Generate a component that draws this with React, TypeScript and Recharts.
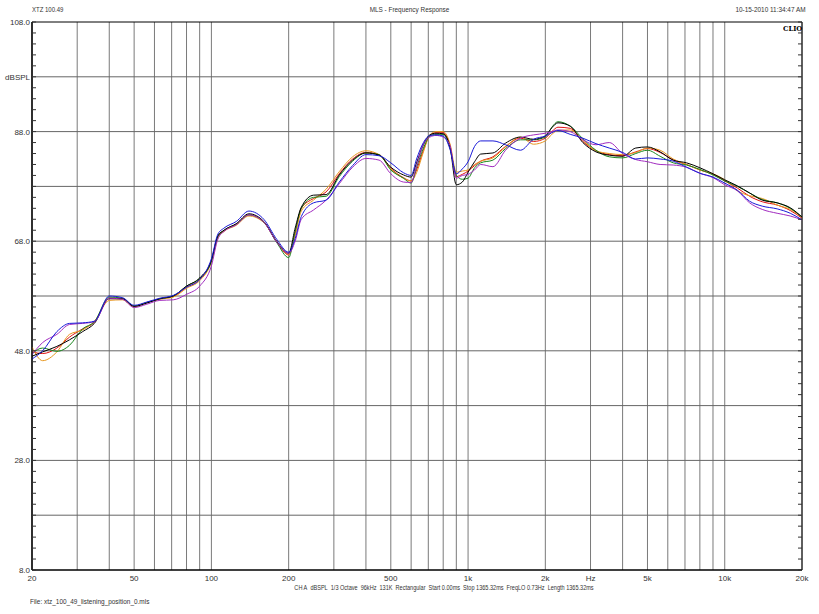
import React from "react";
import {
  CartesianGrid,
  Line,
  LineChart,
  ReferenceArea,
  ReferenceLine,
  XAxis,
  YAxis,
} from "recharts";

// frequency points (Hz), shared by all six traces
const FREQS = [
  20, 22, 25, 28, 31.5, 35, 40, 45, 50, 56,
  63, 71, 80, 90, 100, 106, 112, 125, 140, 160,
  180, 200, 212, 224, 250, 280, 315, 355, 400, 450,
  500, 560, 600, 630, 670, 710, 750, 800, 850, 900,
  950, 1000, 1060, 1120, 1250, 1400, 1600, 1800, 2000, 2120,
  2240, 2500, 2800, 3150, 3550, 4000, 4500, 5000, 5600, 6300,
  7100, 8000, 9000, 10000, 11200, 12500, 14000, 16000, 18000, 20000,
];

// dBSPL per trace
const BLACK = [
  47.0, 47.8, 48.8, 50.0, 51.5, 53.0, 57.5, 57.5, 56.1, 56.7,
  57.5, 58.0, 59.8, 61.3, 64.5, 69.0, 70.0, 71.2, 73.0, 71.6,
  67.9, 65.8, 70.4, 74.2, 76.4, 76.5, 80.1, 82.8, 84.1, 83.7,
  81.5, 80.1, 79.7, 82.3, 85.6, 87.4, 87.7, 87.6, 85.2, 78.3,
  78.8, 80.6, 82.5, 83.9, 84.1, 85.9, 87.0, 86.6, 87.2, 88.7,
  89.6, 89.0, 86.0, 84.3, 83.7, 83.5, 85.0, 85.2, 84.3, 82.8,
  82.3, 81.4, 80.3, 79.2, 78.1, 76.8, 75.5, 75.0, 74.1, 72.4,
];
const RED = [
  47.8, 47.5, 48.5, 50.5, 52.0, 53.2, 57.6, 57.5, 56.1, 56.8,
  57.5, 57.9, 59.6, 61.0, 64.4, 68.8, 69.9, 71.1, 72.8, 71.5,
  67.8, 65.5, 69.5, 74.0, 75.8, 77.0, 80.3, 83.0, 84.2, 83.8,
  81.3, 79.6, 79.0, 81.0, 84.6, 87.3, 87.8, 87.8, 85.5, 79.8,
  80.2, 80.8, 81.8, 82.6, 83.4, 85.3, 86.8, 86.2, 86.8, 88.0,
  88.8, 88.6, 86.2, 84.5, 83.8, 83.6, 84.3, 84.9, 84.2, 82.8,
  82.0, 81.0, 80.2, 79.0, 77.7, 76.2, 75.2, 74.6, 73.6, 72.2,
];
const GREEN = [
  47.5, 48.5, 47.9, 49.0, 52.0, 53.3, 57.8, 57.6, 56.2, 56.8,
  57.5, 58.0, 59.8, 61.2, 64.3, 68.8, 70.0, 71.1, 72.8, 71.5,
  67.7, 65.0, 69.8, 74.0, 76.0, 76.2, 79.8, 82.6, 84.1, 83.8,
  81.0, 79.5, 78.6, 81.5, 85.0, 87.2, 87.5, 87.5, 85.0, 80.0,
  79.3, 79.5, 81.4, 82.3, 82.8, 84.9, 86.5, 86.5, 87.0, 88.8,
  89.8, 89.0, 86.7, 84.6, 83.4, 83.2, 84.0, 84.6, 83.5, 82.3,
  81.9, 81.1, 80.1, 79.0, 78.0, 76.8, 75.6, 75.0, 74.0, 72.4,
];
const ORANGE = [
  48.7, 46.2, 47.8, 51.0, 51.8, 53.4, 57.2, 57.3, 56.0, 56.8,
  57.4, 57.8, 59.4, 60.8, 64.2, 68.6, 69.8, 70.9, 72.6, 71.4,
  67.9, 65.6, 69.0, 73.5, 75.5, 77.5, 80.7, 83.4, 84.5, 83.8,
  81.2, 79.5, 79.0, 80.5, 84.3, 87.4, 88.0, 88.0, 85.8, 80.6,
  80.8, 81.0, 82.0, 82.6, 83.2, 85.2, 87.0, 85.7, 86.3, 87.5,
  88.2, 88.3, 86.4, 84.5, 84.0, 83.8, 84.2, 85.0, 84.6, 83.0,
  82.0, 81.0, 80.3, 79.2, 77.2, 76.3, 75.8, 74.6, 73.8, 72.4,
];
const BLUE = [
  46.5, 48.0, 51.5, 53.0, 53.1, 53.4, 58.0, 57.7, 56.3, 56.9,
  57.6, 58.1, 59.6, 61.0, 64.8, 69.3, 70.4, 71.6, 73.5, 72.0,
  68.3, 66.0, 68.5, 72.5, 75.0, 75.5, 78.8, 81.8, 83.8, 83.6,
  82.3, 80.5, 80.0, 83.0, 86.0, 87.3, 87.4, 87.2, 84.8, 80.3,
  81.2, 82.5, 85.3, 86.3, 86.3, 85.6, 84.6, 86.6, 87.2, 87.8,
  88.2, 87.5, 86.8, 85.8, 85.0, 84.2, 83.0, 83.2, 83.0, 82.6,
  81.5, 80.4, 79.7, 78.6, 77.3, 75.3, 74.4, 73.9, 73.1, 71.9,
];
const PURPLE = [
  47.3, 49.5, 51.0, 52.8, 53.0, 53.3, 57.6, 57.4, 55.9, 56.5,
  57.2, 57.3, 58.3, 59.8, 63.5, 68.4, 69.8, 71.0, 72.8, 71.5,
  67.8, 65.8, 68.0, 72.0, 73.7, 75.5, 78.5, 81.5, 83.1, 82.8,
  80.3, 78.8, 78.7, 81.8, 85.7, 87.0, 87.3, 87.0, 85.5, 79.5,
  80.0, 80.2, 81.0, 82.0, 81.6, 84.6, 86.8, 87.4, 87.7, 88.0,
  88.3, 88.0, 86.5, 85.6, 86.0, 84.0, 82.9, 82.5, 82.0, 81.9,
  81.5, 80.4, 79.6, 78.3, 77.2, 75.0, 73.8, 73.1, 72.6, 71.9,
];

const X_TICKS = [
  20, 30, 40, 50, 60, 70, 80, 90, 100,
  200, 300, 400, 500, 600, 700, 800, 900, 1000,
  2000, 3000, 4000, 5000, 6000, 7000, 8000, 9000, 10000, 20000,
];
const X_LABELS: Record<number, string> = {
  20: "20", 50: "50", 100: "100", 200: "200", 500: "500", 1000: "1k",
  2000: "2k", 3000: "Hz", 5000: "5k", 10000: "10k", 20000: "20k",
};
const Y_GRID = [18, 28, 38, 48, 58, 68, 78, 88, 98];
const Y_LABELS: Record<number, string> = {
  108: "108.0", 98: "dBSPL", 88: "88.0", 68: "68.0", 48: "48.0", 28: "28.0", 8: "8.0",
};
const Y_MINOR = Array.from({ length: 51 }, (_, i) => 8 + i * 2);

const SERIES = [
  { key: "red", color: "#e01010", values: RED },
  { key: "orange", color: "#e8961e", values: ORANGE },
  { key: "green", color: "#18861c", values: GREEN },
  { key: "black", color: "#000000", values: BLACK },
  { key: "purple", color: "#a22cc0", values: PURPLE },
  { key: "blue", color: "#1a1ad8", values: BLUE },
];

const data = FREQS.map((f, i) => {
  const row: Record<string, number> = { f };
  SERIES.forEach((s) => (row[s.key] = s.values[i]));
  return row;
});

const CHART_W = 819;
const CHART_H = 614;
const MARGIN = { top: 22, right: 17, bottom: 0, left: 0 };
const Y_W = 32;
const X_H = 44;
const PLOT_L = MARGIN.left + Y_W;
const PLOT_R = CHART_W - MARGIN.right;
const FONT = "'Liberation Sans Narrow', 'Arial Narrow', 'Liberation Sans', Arial, sans-serif";

function YTick(props: any) {
  const { x, y, payload } = props;
  const label = Y_LABELS[payload.value];
  return (
    <g>
      <line x1={PLOT_L} x2={PLOT_L + 4} y1={y} y2={y} stroke="#333" strokeWidth={1} />
      <line x1={PLOT_R - 4} x2={PLOT_R} y1={y} y2={y} stroke="#333" strokeWidth={1} />
      {label && (
        <text x={x} y={y} dy={3} textAnchor="end" fontSize={8} fill="#333" fontFamily={FONT}>
          {label}
        </text>
      )}
    </g>
  );
}

const small: React.CSSProperties = {
  position: "absolute",
  fontFamily: FONT,
  fontSize: 8,
  color: "#333",
  whiteSpace: "nowrap",
  lineHeight: "10px",
};

export default function App() {
  return (
    <div style={{ position: "absolute", left: 0, top: 0, width: CHART_W, height: CHART_H, background: "#fff" }}>
      <LineChart width={CHART_W} height={CHART_H} data={data} margin={MARGIN}>
        <CartesianGrid stroke="#7a7a7a" horizontal={false} />
        {Y_GRID.map((v) => (
          <ReferenceLine key={v} y={v} stroke="#666" strokeWidth={1} />
        ))}
        <XAxis
          dataKey="f"
          type="number"
          scale="log"
          domain={[20, 20000]}
          allowDataOverflow
          ticks={X_TICKS}
          interval={0}
          height={X_H}
          tickLine={false}
          tickSize={0}
          tickMargin={5}
          axisLine={{ stroke: "#000" }}
          tickFormatter={(v: number) => X_LABELS[v] ?? ""}
          tick={{ fontSize: 8, fill: "#333", fontFamily: FONT }}
        />
        <YAxis
          type="number"
          domain={[8, 108]}
          allowDataOverflow
          ticks={Y_MINOR}
          interval={0}
          width={Y_W}
          tickLine={false}
          tickSize={0}
          tickMargin={2}
          axisLine={{ stroke: "#000" }}
          tick={(p: any) => <YTick {...p} />}
        />
        <ReferenceArea x1={20} x2={20000} y1={8} y2={108} fill="none" stroke="#000" ifOverflow="visible" />
        {SERIES.map((s) => (
          <Line
            key={s.key}
            dataKey={s.key}
            type="monotone"
            stroke={s.color}
            strokeWidth={1}
            dot={false}
            isAnimationActive={false}
          />
        ))}
      </LineChart>
      <div style={{ ...small, left: 32, top: 5, transform: "scaleX(0.75)", transformOrigin: "left" }}>XTZ 100.49</div>
      <div style={{ ...small, left: 0, width: 819, top: 5, textAlign: "center", transform: "scaleX(0.8)" }}>
        MLS - Frequency Response
      </div>
      <div style={{ ...small, right: 14, top: 5, transform: "scaleX(0.8)", transformOrigin: "right" }}>
        10-15-2010 11:34:47 AM
      </div>
      <div
        style={{
          ...small,
          left: 783,
          top: 23,
          fontFamily: "'DejaVu Serif', serif",
          fontWeight: "bold",
          fontSize: 8,
          color: "#000",
          transform: "scaleX(0.85)",
          transformOrigin: "left",
        }}
      >
        CLIO
      </div>
      <div
        style={{
          ...small,
          left: 0,
          width: 888,
          top: 583,
          textAlign: "center",
          fontSize: 7.5,
          transform: "scaleX(0.74)",
        }}
      >
        CH A&nbsp;&nbsp;dBSPL&nbsp;&nbsp;1/3 Octave&nbsp;&nbsp;96kHz&nbsp;&nbsp;131K&nbsp;&nbsp;Rectangular&nbsp;&nbsp;Start 0.00ms&nbsp;&nbsp;Stop 1365.32ms&nbsp;&nbsp;FreqLO 0.73Hz&nbsp;&nbsp;Length 1365.32ms
      </div>
      <div style={{ ...small, left: 30, top: 597, fontSize: 7.5, transform: "scaleX(0.86)", transformOrigin: "left" }}>
        File: xtz_100_49_listening_position_0.mls
      </div>
    </div>
  );
}
